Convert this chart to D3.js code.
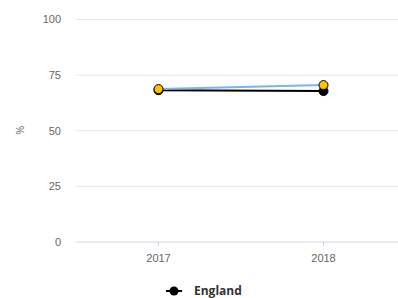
<!DOCTYPE html>
<html>
<head>
<meta charset="utf-8">
<script src="https://cdn.jsdelivr.net/npm/d3@7"></script>
<style>
  body { margin: 0; background: #fff; }
  svg { display: block; font-family: "Open Sans", "DejaVu Sans", sans-serif; }
  .grid line { stroke: #e6e6e6; }
  .grid path { display: none; }
  .values text { fill: #666; font-size: 11px; }
</style>
</head>
<body>
<div id="chart"></div>
<script>
var years = ['2017', '2018'];
var england = [68.0, 67.6];
var school = [68.5, 70.3];
var yTicks = [0, 25, 50, 75, 100];
var legendLabel = 'England';

var graph = { width: 398, height: 298, left: 76, right: 406, top: 19, bottom: 241.5 };

var x = d3.scaleBand().domain(years).range([graph.left, graph.right]);
var y = d3.scaleLinear().domain([0, 100]).range([graph.bottom, graph.top]);

var svg = d3.select('#chart').append('svg')
  .attr('width', graph.width)
  .attr('height', graph.height);

// horizontal gridlines
svg.append('g')
  .attr('class', 'grid')
  .attr('transform', 'translate(' + graph.left + ',0)')
  .call(d3.axisLeft(y).tickValues(yTicks.slice(1))
    .tickSize(-(graph.right - graph.left))
    .tickFormat(''));

// y labels
var yAxis = svg.append('g')
  .attr('class', 'values')
  .attr('transform', 'translate(' + (graph.left - 15) + ',0)')
  .call(d3.axisLeft(y).tickValues(yTicks).tickSize(0).tickPadding(0));
yAxis.select('.domain').remove();
yAxis.selectAll('text').attr('dy', '0.35em');

// x axis
var xAxis = svg.append('g')
  .attr('class', 'values')
  .attr('transform', 'translate(0,' + graph.bottom + ')')
  .call(d3.axisBottom(x).tickSize(5).tickSizeOuter(0).tickPadding(6));
xAxis.select('.domain').attr('stroke', '#ccd6eb');
xAxis.selectAll('line').attr('stroke', '#ccd6eb');
xAxis.selectAll('text').attr('dy', '0.9em');

svg.append('text')
  .attr('transform', 'translate(24,' + y(50) + ') rotate(-90)')
  .attr('text-anchor', 'middle')
  .attr('fill', '#666')
  .attr('font-size', '11px')
  .text('%');

var line = function(vals) {
  return d3.line()
    .x(function(d, i) { return x(years[i]) + x.bandwidth() / 2; })
    .y(function(d) { return y(d); })(vals);
};

function drawSeries(vals, stroke, fill) {
  var g = svg.append('g');
  g.append('path')
    .attr('d', line(vals))
    .attr('fill', 'none')
    .attr('stroke', stroke)
    .attr('stroke-width', 2);
  g.selectAll('circle')
    .data(vals)
    .enter().append('circle')
    .attr('r', 4.5)
    .attr('cx', function(d, i) { return x(years[i]) + x.bandwidth() / 2; })
    .attr('cy', function(d) { return y(d); })
    .attr('fill', fill)
    .attr('stroke', '#000')
    .attr('stroke-width', 1);
}

drawSeries(england, '#000', '#000');
drawSeries(school, '#7cb5ec', '#ffc000');

// legend
var lg = svg.append('g').attr('transform', 'translate(166,291)');
lg.append('line').attr('x1', 0).attr('x2', 16).attr('y1', 0).attr('y2', 0)
  .attr('stroke', '#000').attr('stroke-width', 2);
lg.append('circle').attr('cx', 8).attr('cy', 0).attr('r', 4.5).attr('fill', '#000');
lg.append('text')
  .attr('x', 28).attr('y', 0).attr('dy', '0.35em')
  .attr('fill', '#333')
  .attr('font-size', '12px')
  .attr('font-weight', 'bold')
  .text(legendLabel);
</script>
</body>
</html>
